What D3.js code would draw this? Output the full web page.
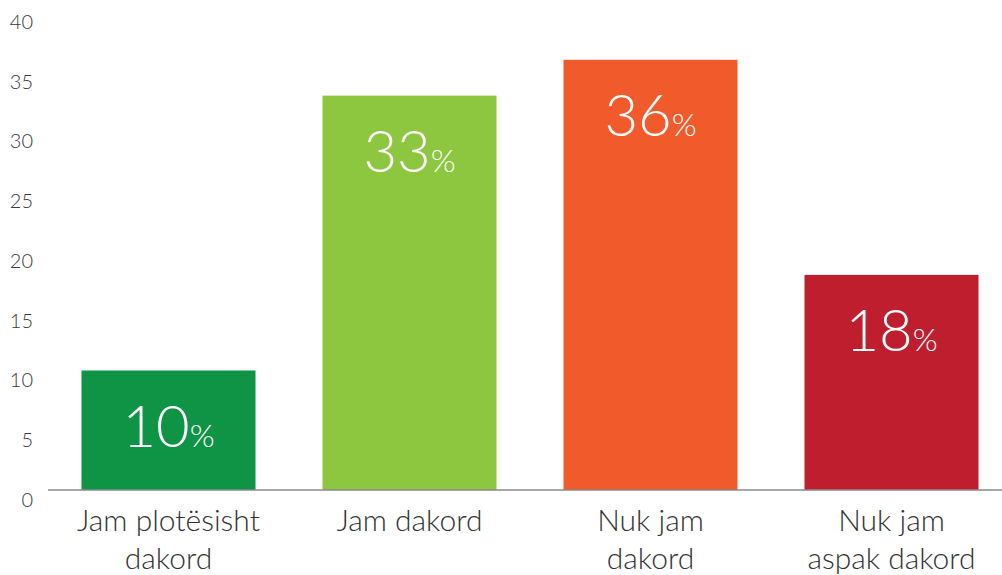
<!DOCTYPE html>
<html>
<head>
<meta charset="utf-8">
<script src="https://cdn.jsdelivr.net/npm/d3@7"></script>
<style>
  html, body { margin: 0; padding: 0; background: #fff; }
  svg { display: block; font-family: "Source Sans Pro", Lato, "Open Sans", sans-serif; }
</style>
</head>
<body>
<svg id="chart" width="1002" height="575"></svg>
<script>
// Survey answers and their share of respondents (%)
const categories = [
  ["Jam plotësisht", "dakord"],
  ["Jam dakord"],
  ["Nuk jam", "dakord"],
  ["Nuk jam", "aspak dakord"]
];
const values = [10, 33, 36, 18];
const colors = ["#0f9445", "#8dc63f", "#f15a2b", "#be1e2d"];
const yTicks = [0, 5, 10, 15, 20, 25, 30, 35, 40];

const svg = d3.select("#chart");
const keys = categories.map(c => c.join(" "));

const x = d3.scaleBand()
  .domain(keys)
  .range([48, 1012])
  .paddingInner(0.278)
  .paddingOuter(0.139);

const y = d3.scaleLinear()
  .domain([0, 40])
  .range([490, 12]);

// Y axis: labels only, no line
const yAxis = d3.axisLeft(y).tickValues(yTicks).tickSize(0).tickPadding(0);
const gy = svg.append("g").attr("transform", "translate(33,10)").call(yAxis);
gy.select(".domain").remove();
gy.selectAll("text")
  .attr("fill", "#3a3a3a")
  .style("font-size", "20px")
  .style("font-weight", 300)
  .style("font-family", "Lato, 'Open Sans', sans-serif");

// Bars
svg.append("g").selectAll("rect")
  .data(values)
  .join("rect")
  .attr("x", (d, i) => x(keys[i]))
  .attr("width", x.bandwidth())
  .attr("y", d => y(d))
  .attr("height", d => y(0) - y(d))
  .attr("fill", (d, i) => colors[i]);

// Baseline
svg.append("line")
  .attr("x1", 48).attr("x2", 1002)
  .attr("y1", y(0)).attr("y2", y(0))
  .attr("stroke", "#8a8a8a").attr("stroke-width", 1.5);

// Value labels inside bars
const vl = svg.append("g").selectAll("text")
  .data(values)
  .join("text")
  .attr("x", (d, i) => x(keys[i]) + x.bandwidth() / 2)
  .attr("y", d => y(d) + 76)
  .attr("text-anchor", "middle")
  .attr("fill", "#fff")
  .style("font-family", "Lato, 'Open Sans', sans-serif")
  .style("font-weight", 300);
vl.append("tspan").style("font-size", "58px").text(d => d);
vl.append("tspan").style("font-size", "32px").text("%");

// Category labels
const cl = svg.append("g").selectAll("text")
  .data(categories)
  .join("text")
  .attr("x", (d, i) => x(keys[i]) + x.bandwidth() / 2)
  .attr("y", 531)
  .attr("text-anchor", "middle")
  .attr("fill", "#333")
  .style("font-size", "30px")
  .style("font-weight", 300)
  .style("font-family", "Lato, 'Open Sans', sans-serif");
cl.selectAll("tspan")
  .data(d => d)
  .join("tspan")
  .attr("x", function () { return d3.select(this.parentNode).attr("x"); })
  .attr("dy", (d, j) => j === 0 ? 0 : 38)
  .text(d => d);
</script>
</body>
</html>
